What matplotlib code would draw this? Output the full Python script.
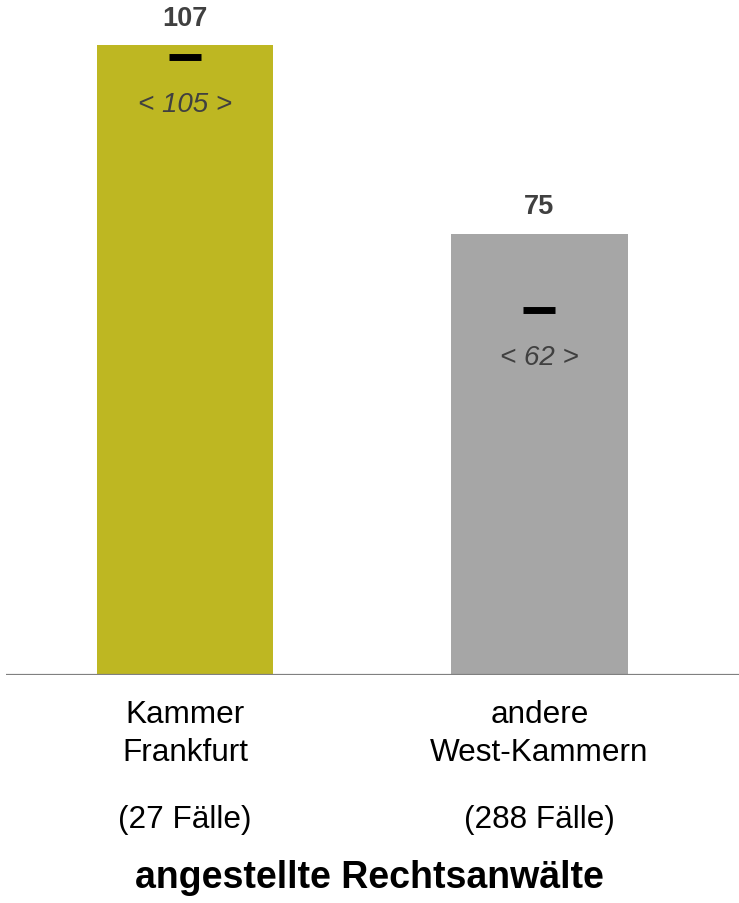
import matplotlib
matplotlib.use('Agg')
import matplotlib.pyplot as plt

# Daten
kategorien = ['Kammer\nFrankfurt', 'andere\nWest-Kammern']
faelle = ['(27 Fälle)', '(288 Fälle)']
mittelwerte = [107, 75]
mediane = [105, 62]
farben = ['#BEB722', '#A6A6A6']
titel = 'angestellte Rechtsanwälte'

plt.rcParams['font.family'] = ['Liberation Sans', 'DejaVu Sans']

fig = plt.figure(figsize=(7.39, 9.04), dpi=100)
ax = fig.add_axes([6 / 739, (904 - 676) / 904, 1 - 6 / 739, 676 / 904])

x = list(range(len(kategorien)))
ax.bar(x, mittelwerte, width=0.497, color=farben, zorder=2)

for xi, m, med, name, n in zip(x, mittelwerte, mediane, kategorien, faelle):
    # Mittelwert über dem Balken
    ax.annotate(str(m), xy=(xi, m), xytext=(0, 20), textcoords='offset points',
                ha='center', va='center', fontsize=19.5, fontweight='bold', color='#404040')
    # Median-Strich
    ax.hlines(med, xi - 0.045, xi + 0.045, colors='black', linewidth=5, zorder=3)
    ax.annotate(f'< {med} >', xy=(xi, med), xytext=(0, -33.8), textcoords='offset points',
                ha='center', va='center', fontsize=20, fontstyle='italic', color='#404040')
    # Beschriftung unter der Achse
    zeilen = name.split('\n')
    ax.annotate(zeilen[0], xy=(xi, 0), xytext=(0, -33.8), textcoords='offset points',
                ha='center', va='baseline', fontsize=22.7, color='black', annotation_clip=False)
    ax.annotate(zeilen[1], xy=(xi, 0), xytext=(0, -61.2), textcoords='offset points',
                ha='center', va='baseline', fontsize=22.7, color='black', annotation_clip=False)
    ax.annotate(n, xy=(xi, 0), xytext=(0, -109.4), textcoords='offset points',
                ha='center', va='baseline', fontsize=22.7, color='black', annotation_clip=False)

fig.text(0.5, (904 - 888) / 904, titel, ha='center', va='baseline',
         fontsize=27, fontweight='bold', color='black')

ax.set_xlim(-0.505, 1.563)
ax.set_ylim(0, 114.9)
ax.axhline(0, color='#808080', linewidth=1.6, zorder=3)
for s in ax.spines.values():
    s.set_visible(False)
ax.set_xticks([])
ax.set_yticks([])

plt.savefig('out.png', dpi=100)
